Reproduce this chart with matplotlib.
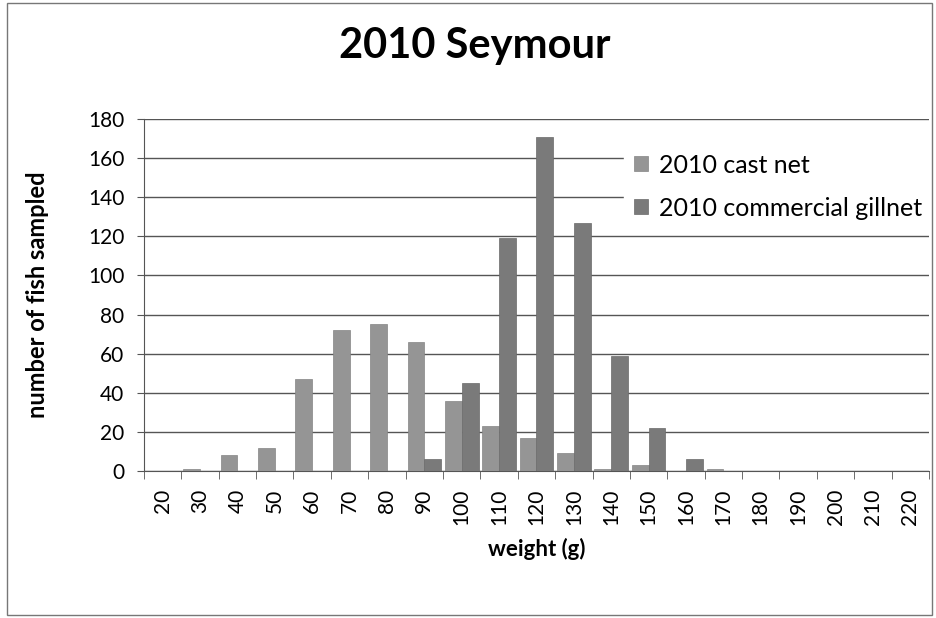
import matplotlib
matplotlib.use("Agg")
import matplotlib.pyplot as plt
import numpy as np
from matplotlib.patches import Rectangle

categories = [20, 30, 40, 50, 60, 70, 80, 90, 100, 110, 120, 130, 140, 150, 160, 170, 180, 190, 200, 210, 220]
cast_net = [0, 1, 8, 12, 47, 72, 75, 66, 36, 23, 17, 9, 1, 3, 0, 1, 0, 0, 0, 0, 0]
gillnet = [0, 0, 0, 0, 0, 0, 0, 6, 45, 119, 171, 127, 59, 22, 6, 0, 0, 0, 0, 0, 0]
series_names = ["2010 cast net", "2010 commercial gillnet"]
y_ticks = [0, 20, 40, 60, 80, 100, 120, 140, 160, 180]

plt.rcParams['font.family'] = ['Lato', 'DejaVu Sans']

fig = plt.figure(figsize=(9.36, 6.18), dpi=100)
ax = fig.add_axes([0.1538, 0.2379, 0.8387, 0.5695])

x = np.arange(len(categories))
w = 0.45
ax.bar(x - w / 2, cast_net, width=w, color='#959595', edgecolor='#858585', linewidth=0.5,
       label=series_names[0], zorder=3)
ax.bar(x + w / 2, gillnet, width=w, color='#7a7a7a', edgecolor='#6a6a6a', linewidth=0.5,
       label=series_names[1], zorder=3)

ax.set_xlim(-0.5, len(categories) - 0.5)
ax.set_ylim(0, 180)
ax.set_yticks(y_ticks)
ax.tick_params(axis='y', labelsize=15, length=5, color='#555555', pad=9)
ax.set_xticks(x)
ax.set_xticklabels([str(c) for c in categories], rotation=90, fontsize=15)
ax.tick_params(axis='x', length=0, pad=13)
ax.set_xticks(np.arange(len(categories) + 1) - 0.5, minor=True)
ax.tick_params(axis='x', which='minor', length=6, color='#555555')

ax.yaxis.grid(True, color='#555555', linewidth=1.0, zorder=0)
ax.set_axisbelow(True)
for s in ['top', 'right']:
    ax.spines[s].set_visible(False)
ax.spines['left'].set_color('#555555')
ax.spines['bottom'].set_color('#555555')

ax.set_ylabel("number of fish sampled", fontsize=17, fontweight='bold', labelpad=28)
ax.set_xlabel("weight (g)", fontsize=16, fontweight='bold', labelpad=9)
fig.text(0.507, 0.925, "2010 Seymour", ha='center', va='center', fontsize=30, fontweight='bold')

leg = ax.legend(loc='upper left', bbox_to_anchor=(0.612, 0.93), frameon=True, fontsize=18,
                handlelength=0.55, handleheight=0.55, handletextpad=0.45, labelspacing=0.8,
                borderaxespad=0.0, borderpad=0.4)
leg.get_frame().set_facecolor('white')
leg.get_frame().set_edgecolor('white')
leg.get_frame().set_alpha(1)
leg.set_zorder(5)

fig.patches.append(Rectangle((0.008, 0.005), 0.988, 0.99, transform=fig.transFigure,
                             fill=False, edgecolor='#777777', linewidth=1.0))

fig.savefig("out.png", dpi=100)
